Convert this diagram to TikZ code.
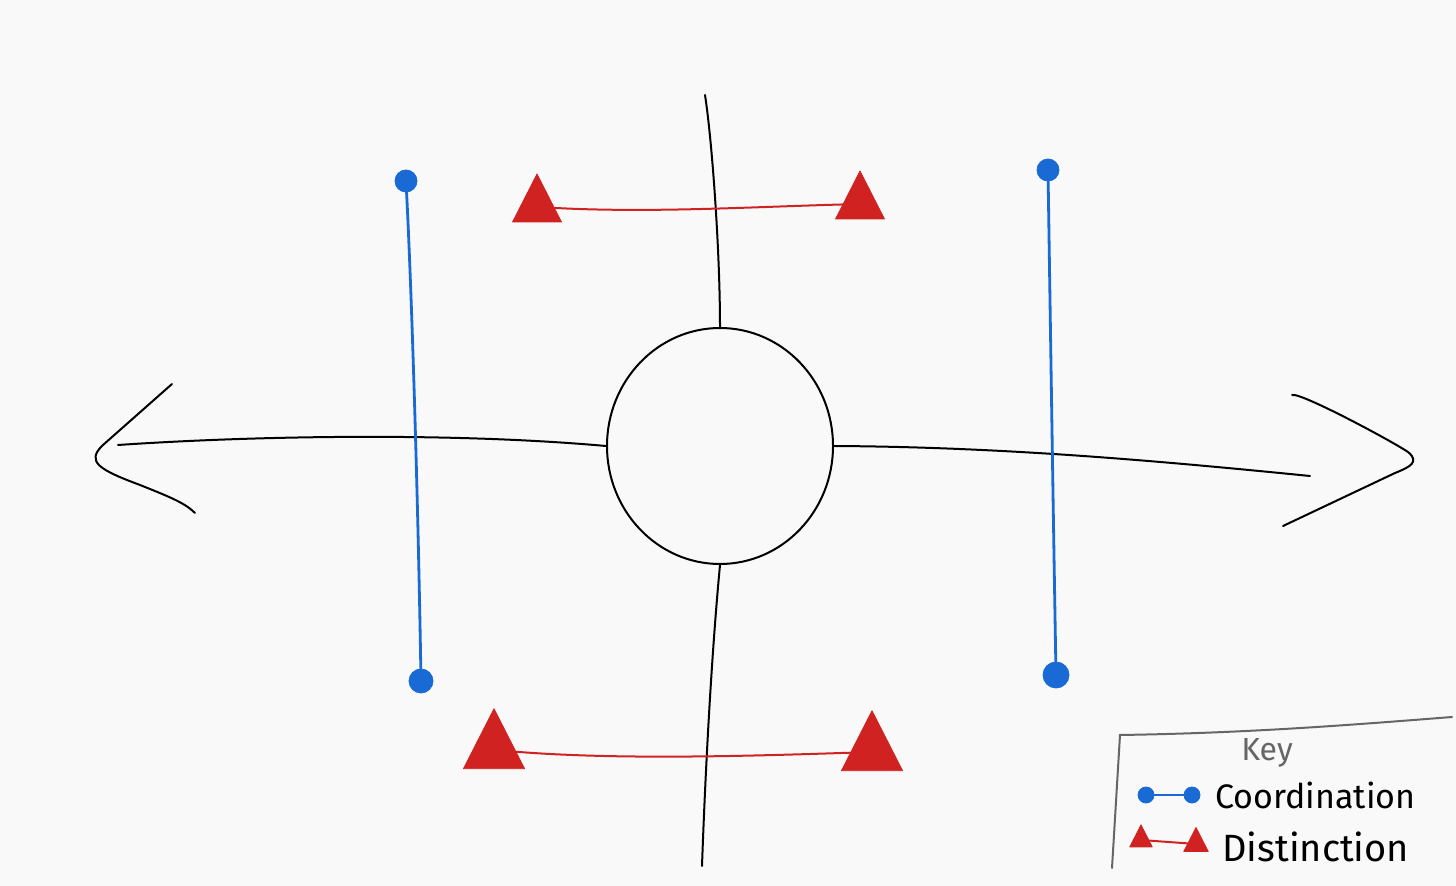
\documentclass[tikz,border=0pt]{standalone}
\usetikzlibrary{shapes.geometric}
\usepackage{fontspec}
\setmainfont{Fira Sans}
\definecolor{bg}{HTML}{F9F9F9}
\definecolor{cblue}{HTML}{1A6AD6}
\definecolor{cred}{HTML}{D12222}
\definecolor{keygray}{HTML}{666666}
\begin{document}
\begin{tikzpicture}[x=0.5pt,y=-0.5pt,
  ink/.style={black,line width=1pt,line cap=round},
  bline/.style={cblue,line width=1.4pt,line cap=round},
  rline/.style={cred,line width=1pt,line cap=round},
  dot/.style={circle,fill=cblue,draw=cblue,inner sep=0pt,minimum width=#1},
  tri/.style={isosceles triangle,shape border rotate=90,isosceles triangle apex angle=54,fill=cred,draw=cred,line join=round,inner sep=0pt,minimum height=#1},
  lbl/.style={font=\fontsize{17}{17}\selectfont,anchor=west,inner sep=0pt}]
\fill[bg] (0,0) rectangle (1456,886);
\useasboundingbox (0,0) rectangle (1456,886);
% circle
\node[draw,ink,ellipse,minimum width=113pt,minimum height=118pt,inner sep=0pt] (c) at (720,446) {};
% axes
\coordinate (vt) at (705,95);
\coordinate (vb) at (702,866);
\coordinate (hl) at (118,445);
\coordinate (hr) at (1310,476);
\draw[ink] (vt) .. controls (712,140) and (720,250) .. (c.north);
\draw[ink] (c.south) .. controls (711,660) and (705,780) .. (vb);
\draw[ink] (c.west) .. controls (450,432) and (250,436) .. (hl);
\draw[ink] (c.east) .. controls (1000,447) and (1150,460) .. (hr);
% arrowheads
\coordinate (la1) at (172,384);
\coordinate (la2) at (195,513);
\draw[ink] (la1) -- (103,445) .. controls (85,462) and (100,470) .. (140,485) .. controls (170,497) and (185,503) .. (la2);
\coordinate (ra1) at (1292,395);
\coordinate (ra2) at (1283,526);
\draw[ink] (ra1) .. controls (1300,392) and (1390,440) .. (1408,452) .. controls (1420,462) and (1410,467) .. (1395,473) -- (ra2);
% blue coordination lines
\node[dot=11pt] (b1) at (406,181) {};
\node[dot=12pt] (b2) at (421,681) {};
\node[dot=11pt] (b3) at (1048,170) {};
\node[dot=13pt] (b4) at (1056,675) {};
\draw[bline] (b1) .. controls (412,300) and (418,500) .. (b2);
\draw[bline] (b3) .. controls (1050,300) and (1053,500) .. (b4);
% red distinction lines
\node[tri=24pt] (r1) at (537,207) {};
\node[tri=24pt] (r2) at (860,204) {};
\node[tri=30pt] (r3) at (494,750) {};
\node[tri=30pt] (r4) at (872,752) {};
\draw[rline] (r1) .. controls (650,213) and (750,207) .. (r2);
\draw[rline] (r3) .. controls (620,760) and (750,756) .. (r4);
% key box
\coordinate (k1) at (1112,868);
\coordinate (k2) at (1120,735);
\coordinate (k3) at (1452,717);
\draw[keygray,line width=1pt,line cap=round] (k1) -- (k2) .. controls (1250,733) and (1350,725) .. (k3);
\node[keygray,font=\fontsize{16}{16}\selectfont,inner sep=0pt] (key) at (1267,753) {Key};
\node[dot=8pt] (kb1) at (1146,795) {};
\node[dot=8pt] (kb2) at (1192,795) {};
\draw[bline] (kb1) -- (kb2);
\node[lbl] (kc) at (1215,795) {Coordination};
\node[tri=11pt] (kr1) at (1141,840) {};
\node[tri=12pt] (kr2) at (1196,844) {};
\draw[rline] (kr1) -- (kr2);
\node[lbl,font=\fontsize{19}{19}\selectfont] (kd) at (1222,847) {Distinction};
\end{tikzpicture}
\end{document}
